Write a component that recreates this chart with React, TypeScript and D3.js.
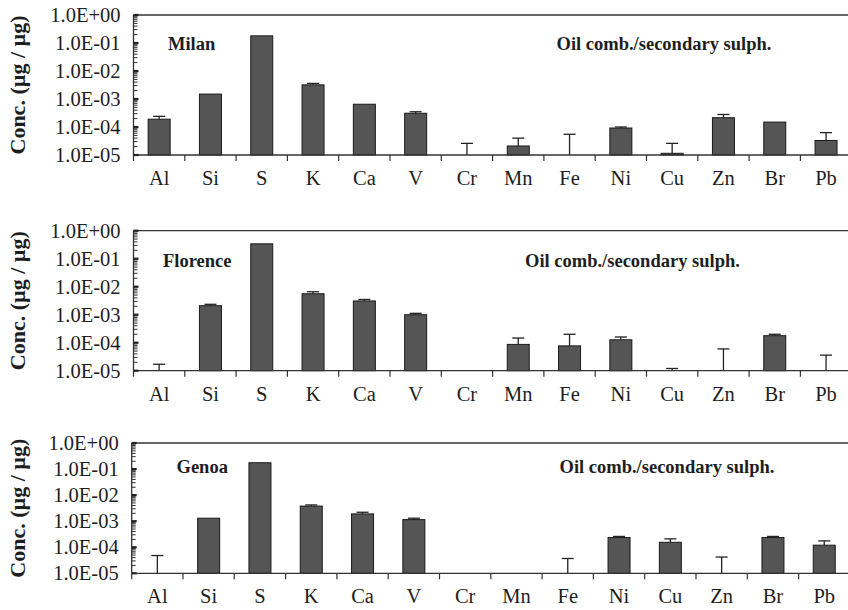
import { useEffect, useRef } from "react";
import * as d3 from "d3";

const categories = ["Al", "Si", "S", "K", "Ca", "V", "Cr", "Mn", "Fe", "Ni", "Cu", "Zn", "Br", "Pb"];
const yTicks = [1e-5, 1e-4, 1e-3, 1e-2, 1e-1, 1];

// bar heights (null = no bar above 1.0E-05)
const milanValues = [1.9e-4, 1.5e-3, 0.18, 3.2e-3, 6.5e-4, 3.1e-4, null, 2.1e-5, null, 9.2e-5, 1.15e-5, 2.15e-4, 1.5e-4, 3.3e-5];
// top of the error whisker (null = none drawn)
const milanUpper = [2.4e-4, null, null, 3.6e-3, null, 3.5e-4, 2.6e-5, 4.0e-5, 5.5e-5, 1.0e-4, 2.6e-5, 2.8e-4, null, 6.3e-5];

const florenceValues = [null, 2.1e-3, 0.34, 5.6e-3, 3.1e-3, 1.0e-3, null, 8.7e-5, 7.7e-5, 1.27e-4, null, null, 1.78e-4, null];
const florenceUpper = [1.7e-5, 2.35e-3, null, 6.6e-3, 3.5e-3, 1.12e-3, null, 1.47e-4, 2.0e-4, 1.6e-4, 1.2e-5, 6.0e-5, 2.0e-4, 3.6e-5];

const genoaValues = [null, 1.3e-3, 0.175, 3.8e-3, 1.9e-3, 1.15e-3, null, null, null, 2.35e-4, 1.55e-4, null, 2.35e-4, 1.2e-4];
const genoaUpper = [4.8e-5, null, null, 4.2e-3, 2.2e-3, 1.3e-3, null, null, 3.7e-5, 2.6e-4, 2.1e-4, 4.2e-5, 2.6e-4, 1.75e-4];

const panels = [
  { city: "Milan", values: milanValues, upper: milanUpper, top: 15, bottom: 155, left: 133.5, cityX: 168, cityDy: 34.5, srcX: 556.5 },
  { city: "Florence", values: florenceValues, upper: florenceUpper, top: 230.7, bottom: 370.7, left: 133.5, cityX: 163, cityDy: 36, srcX: 525 },
  { city: "Genoa", values: genoaValues, upper: genoaUpper, top: 443, bottom: 573.3, left: 131.7, cityX: 176.5, cityDy: 29.7, srcX: 559.5 },
];

const W = 848;
const H = 610;
const STEP = 51.3;
const SERIF = "'Liberation Serif', 'Times New Roman', serif";
const INK = "#1e1e1e";

function sci(v: number) {
  const e = Math.round(Math.log10(v));
  const s = e >= 0 ? "+" : "-";
  return `1.0E${s}${String(Math.abs(e)).padStart(2, "0")}`;
}

export default function App() {
  const ref = useRef<SVGSVGElement | null>(null);

  useEffect(() => {
    const svg = d3.select(ref.current);
    svg.selectAll("*").remove();

    panels.forEach((p) => {
      const g = svg.append("g");
      const x = d3
        .scaleBand<string>()
        .domain(categories)
        .range([p.left, p.left + STEP * categories.length]);
      const y = d3.scaleLog().domain([1e-5, 1]).range([p.bottom, p.top]).clamp(true);
      const barW = 22;
      const capW = 12;

      // bars
      categories.forEach((c, i) => {
        const v = p.values[i];
        const cx = (x(c) as number) + x.bandwidth() / 2;
        if (v != null && v > 1e-5) {
          g.append("rect")
            .attr("x", cx - barW / 2)
            .attr("y", y(v))
            .attr("width", barW)
            .attr("height", y(1e-5) - y(v))
            .attr("fill", "#555555")
            .attr("stroke", "#1a1a1a")
            .attr("stroke-width", 1);
        }
        const u = p.upper[i];
        if (u != null) {
          const base = v != null && v > 1e-5 ? y(v) : y(1e-5);
          g.append("line")
            .attr("x1", cx).attr("x2", cx)
            .attr("y1", base).attr("y2", y(u))
            .attr("stroke", "#222").attr("stroke-width", 1.3);
          g.append("line")
            .attr("x1", cx - capW / 2).attr("x2", cx + capW / 2)
            .attr("y1", y(u)).attr("y2", y(u))
            .attr("stroke", "#222").attr("stroke-width", 1.3);
        }
      });

      // top frame line
      g.append("line")
        .attr("x1", p.left).attr("x2", W)
        .attr("y1", p.top).attr("y2", p.top)
        .attr("stroke", "#333").attr("stroke-width", 1.3);

      // x axis
      g.append("line")
        .attr("x1", p.left).attr("x2", W)
        .attr("y1", p.bottom).attr("y2", p.bottom)
        .attr("stroke", "#333").attr("stroke-width", 1.3);
      categories.forEach((c) => {
        const bx = x(c) as number;
        g.append("line")
          .attr("x1", bx).attr("x2", bx)
          .attr("y1", p.bottom).attr("y2", p.bottom + 6)
          .attr("stroke", "#333").attr("stroke-width", 1.2);
        g.append("text")
          .attr("x", bx + x.bandwidth() / 2)
          .attr("y", p.bottom + 30)
          .attr("text-anchor", "middle")
          .attr("font-family", SERIF)
          .attr("font-size", 20.5)
          .attr("fill", INK)
          .text(c);
      });

      // y axis
      g.append("line")
        .attr("x1", p.left).attr("x2", p.left)
        .attr("y1", p.top).attr("y2", p.bottom)
        .attr("stroke", "#333").attr("stroke-width", 1.3);
      for (let e = -5; e < 0; e++) {
        for (let m = 2; m <= 9; m++) {
          const yy = y(m * Math.pow(10, e));
          g.append("line")
            .attr("x1", p.left).attr("x2", p.left + 4)
            .attr("y1", yy).attr("y2", yy)
            .attr("stroke", "#333").attr("stroke-width", 1);
        }
      }
      yTicks.forEach((t) => {
        g.append("line")
          .attr("x1", p.left).attr("x2", p.left + 5)
          .attr("y1", y(t)).attr("y2", y(t))
          .attr("stroke", "#222").attr("stroke-width", 2.2);
        g.append("text")
          .attr("x", p.left - 13)
          .attr("y", y(t))
          .attr("dy", "0.35em")
          .attr("text-anchor", "end")
          .attr("font-family", SERIF)
          .attr("font-size", 20.5)
          .attr("fill", INK)
          .text(sci(t));
      });

      // y label
      const midY = (p.top + p.bottom) / 2;
      g.append("text")
        .attr("transform", `translate(25,${midY}) rotate(-90)`)
        .attr("text-anchor", "middle")
        .attr("font-family", SERIF)
        .attr("font-weight", 700)
        .attr("font-size", 22)
        .attr("fill", INK)
        .text("Conc. (\u00b5g / \u00b5g)");

      // titles
      g.append("text")
        .attr("x", p.cityX)
        .attr("y", p.top + p.cityDy)
        .attr("font-family", SERIF)
        .attr("font-weight", 700)
        .attr("font-size", 18.5)
        .attr("fill", INK)
        .text(p.city);
      g.append("text")
        .attr("x", p.srcX)
        .attr("y", p.top + p.cityDy)
        .attr("font-family", SERIF)
        .attr("font-weight", 700)
        .attr("font-size", 18.5)
        .attr("fill", INK)
        .text("Oil comb./secondary sulph.");
    });
  }, []);

  return (
    <svg
      ref={ref}
      width={W}
      height={H}
      style={{ position: "absolute", left: 0, top: 0, background: "#fff" }}
    />
  );
}
